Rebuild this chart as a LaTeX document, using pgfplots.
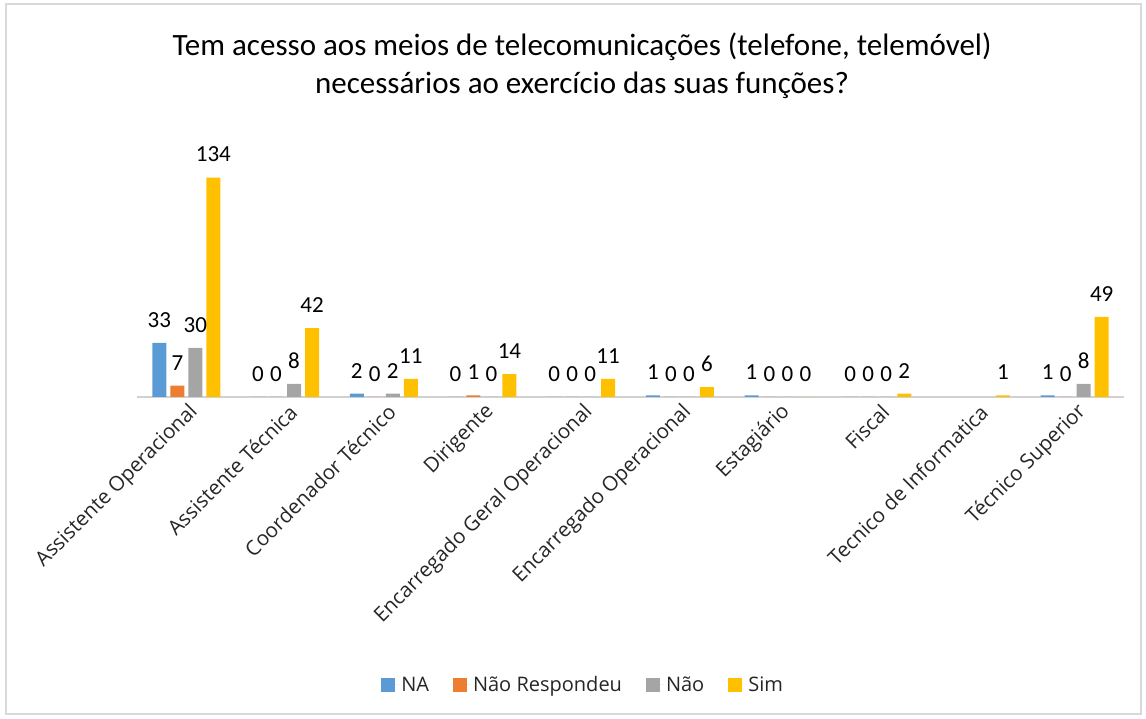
\documentclass[border=0pt]{standalone}
\usepackage{pgfplots}
\pgfplotsset{compat=1.18}
\usepackage{fontspec}
\setmainfont{Carlito}
\newfontfamily\opensans{Open Sans}
\definecolor{cNA}{HTML}{5B9BD5}
\definecolor{cNR}{HTML}{ED7D31}
\definecolor{cNao}{HTML}{A5A5A5}
\definecolor{cSim}{HTML}{FFC000}
\begin{document}
\begin{tikzpicture}
\path (-137pt,-322pt) rectangle (1009pt,397pt);
\draw[black!15, line width=1.5pt] (-131pt,-317pt) rectangle (1004pt,393pt);
\begin{axis}[
  name=ax, at={(0,0)}, anchor=south west,
  scale only axis, width=987pt, height=262pt,
  xmin=-0.5, xmax=9.5, ymin=0, ymax=160,
  ybar=4pt, bar width=14pt,
  axis x line*=bottom, axis y line=none,
  x axis line style={black!18, line width=1.5pt, -},
  xtick={0,...,9}, major tick length=0pt,
  /pgf/number format/assume math mode=true,
  xticklabels={Assistente Operacional, Assistente Técnica, Coordenador Técnico, Dirigente, Encarregado Geral Operacional, Encarregado Operacional, Estagiário, Fiscal, Tecnico de Informatica, Técnico Superior},
  xticklabel style={rotate=45, anchor=east, font=\opensans\fontsize{20.5}{24}\selectfont, text=black!85, xshift=1pt, yshift=-14pt},
  nodes near coords,
  every node near coord/.append style={font=\fontsize{23}{27}\selectfont, text=black, yshift=12pt},
  legend columns=4,
  legend style={draw=none, at={(0.452,-1.099)}, anchor=center, font=\opensans\fontsize{20}{24}\selectfont, text=black!85,
    /tikz/every even column/.append style={column sep=22pt}},
  legend image code/.code={\fill[#1] (0pt,-7pt) rectangle (14pt,7pt); \path (0pt,0pt) -- (18pt,0pt);},
]
\addplot[fill=cNA, draw=none] coordinates {(0,33) (1,0) (2,2) (3,0) (4,0) (5,1) (6,1) (7,0) (9,1)};
\addplot[fill=cNR, draw=none] coordinates {(0,7) (1,0) (2,0) (3,1) (4,0) (5,0) (6,0) (7,0) (9,0)};
\addplot[fill=cNao, draw=none] coordinates {(0,30) (1,8) (2,2) (3,0) (4,0) (5,0) (6,0) (7,0) (9,8)};
\addplot[fill=cSim, draw=none] coordinates {(0,134) (1,42) (2,11) (3,14) (4,11) (5,6) (6,0) (7,2) (8,1) (9,49)};
\legend{NA, Não Respondeu, Não, Sim}
\end{axis}
\node[align=center, font=\fontsize{31}{38}\selectfont, text=black] at (445pt,331pt) {Tem acesso aos meios de telecomunicações (telefone, telemóvel)\\necessários ao exercício das suas funções?};
\end{tikzpicture}
\end{document}
